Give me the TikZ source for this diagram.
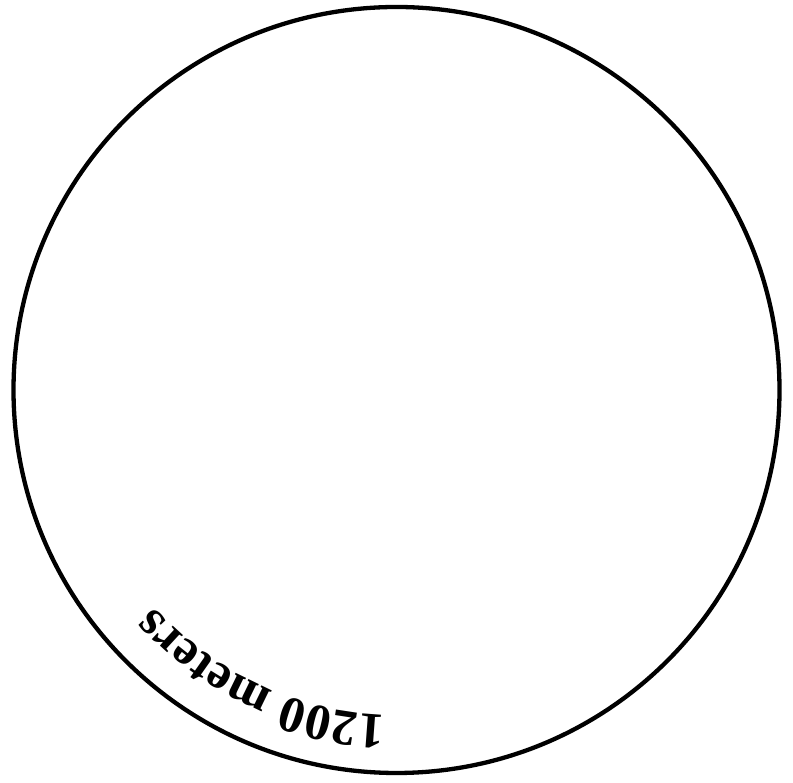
\documentclass[tikz,border=0pt]{standalone}
\usepackage{fontspec}
\setmainfont{Liberation Serif}
\usetikzlibrary{decorations.text}
\begin{document}
\begin{tikzpicture}[x=1pt,y=1pt]
\useasboundingbox (0,0) rectangle (793,783);
\coordinate (c) at (396.5,393);
\draw[line width=4.3pt] (c) circle[radius=383pt];
\path[decorate, decoration={text along path,
  text={|\fontsize{51}{51}\selectfont\bfseries|1200 meters}}]
  (c) ++(268:325pt) arc[start angle=268, end angle=195, radius=325pt];
\end{tikzpicture}
\end{document}
